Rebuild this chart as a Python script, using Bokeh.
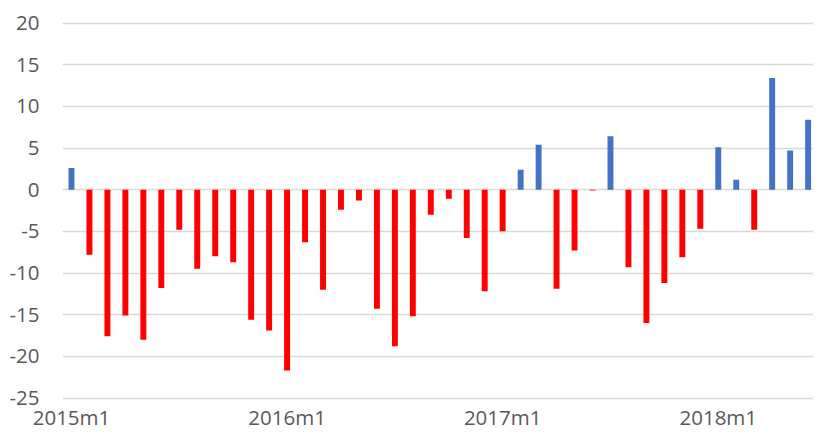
from bokeh.plotting import figure
from bokeh.models import Range1d, FixedTicker, ColumnDataSource
from bokeh.embed import file_html
from bokeh.resources import INLINE

years = [2015, 2016, 2017, 2018]
months = [f"{y}m{m}" for y in years for m in range(1, 13)][:42]

values = [2.6, -7.8, -17.6, -15.1, -18.0, -11.8, -4.8, -9.5, -8.0, -8.7,
          -15.6, -16.9, -21.7, -6.3, -12.0, -2.4, -1.3, -14.3, -18.8, -15.2,
          -3.0, -1.1, -5.8, -12.2, -5.0, 2.4, 5.4, -11.9, -7.3, -0.1,
          6.4, -9.3, -16.0, -11.2, -8.1, -4.7, 5.1, 1.2, -4.8, 13.4,
          4.7, 8.4]

y_ticks = [-25, -20, -15, -10, -5, 0, 5, 10, 15, 20]
y_tick_labels = ["-25", "-20", "-15", "-10", "-5", "0", "5", "10", "15", "20"]

x_idx = list(range(len(months)))
colors = ["#4472C4" if v >= 0 else "#FF0000" for v in values]
src = ColumnDataSource(dict(x=x_idx, top=values, color=colors, label=months))

p = figure(width=813, height=433, output_backend="svg", toolbar_location=None,
           x_range=Range1d(-0.5, 41.3), y_range=Range1d(-25.3, 20.3),
           min_border_left=62, min_border_right=0, min_border_top=20,
           min_border_bottom=31)
p.outline_line_color = None
p.background_fill_color = "white"
p.border_fill_color = "white"

p.vbar(x="x", top="top", bottom=0, width=0.33, fill_color="color",
       line_color=None, source=src)

font = "Open Sans"
text_color = "#595959"

# y axis
p.yaxis.ticker = FixedTicker(ticks=y_ticks)
p.yaxis.major_label_overrides = {t: l for t, l in zip(y_ticks, y_tick_labels)}
p.yaxis.axis_line_color = None
p.yaxis.major_tick_line_color = None
p.yaxis.minor_tick_line_color = None
p.yaxis.major_tick_out = 0
p.yaxis.major_tick_in = 0
p.yaxis.major_label_standoff = 23
p.yaxis.major_label_text_font = font
p.yaxis.major_label_text_font_size = "20.5px"
p.yaxis.major_label_text_color = text_color

# x axis
tick_pos = [i for i, m in enumerate(months) if m.endswith("m1")]
p.xaxis.ticker = FixedTicker(ticks=tick_pos)
p.xaxis.major_label_overrides = {i: months[i] for i in tick_pos}
p.xaxis.axis_line_color = None
p.xaxis.major_tick_line_color = None
p.xaxis.minor_tick_line_color = None
p.xaxis.major_tick_out = 0
p.xaxis.major_tick_in = 0
p.xaxis.major_label_standoff = 2
p.xaxis.major_label_text_font = font
p.xaxis.major_label_text_font_size = "20.5px"
p.xaxis.major_label_text_color = text_color

p.xgrid.grid_line_color = None
p.ygrid.ticker = FixedTicker(ticks=y_ticks)
p.ygrid.grid_line_color = "#D9D9D9"
p.ygrid.grid_line_width = 1.3

open("out.html", "w").write(file_html(p, INLINE))
